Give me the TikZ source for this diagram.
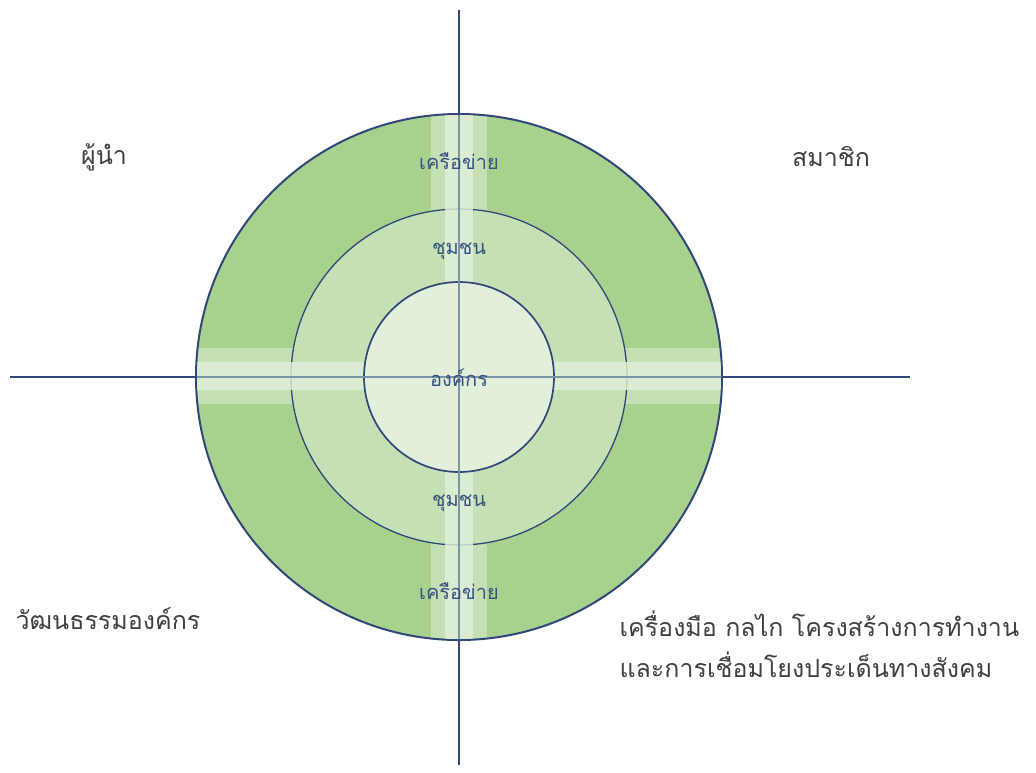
\documentclass[tikz,border=0pt]{standalone}
\usepackage{fontspec}
\usepackage{tikz}
\newfontfamily\thaifont[Script=Thai]{Loma}
\definecolor{ringDark}{RGB}{169,209,142}
\definecolor{ringMid}{RGB}{197,224,180}
\definecolor{ringLight}{RGB}{226,239,218}
\definecolor{axisNavy}{RGB}{47,72,120}
\definecolor{axisGrey}{RGB}{120,148,165}
\definecolor{labelBlue}{RGB}{52,82,130}
\definecolor{labelGrey}{RGB}{64,64,64}

\begin{document}
\begin{tikzpicture}[x=1pt, y=-1pt,
        axis/.style={draw=axisNavy, line width=1.8pt},
        axisin/.style={draw=axisGrey, line width=1.8pt},
        ring/.style={draw=axisNavy, line width=2pt},
        inlabel/.style={font=\thaifont\fontsize{20}{24}\selectfont, text=labelBlue},
        outlabel/.style={font=\thaifont\fontsize{25}{41}\selectfont, text=labelGrey, align=left}
    ]
        \useasboundingbox (0,0) rectangle (1036,772);
        % axes
        \coordinate (c) at (459,377);
        \coordinate (top) at (459,10);
        \coordinate (bottom) at (459,765);
        \coordinate (left) at (10,377);
        \coordinate (right) at (910,377);
        \draw[axis] (top) -- (bottom);
        \draw[axis] (left) -- (right);

        % outer ring with light bands
        \fill[ringDark] (c) circle (263);
        \begin{scope}
            \clip (c) circle (263);
            \fill[ringMid] (431,100) rectangle (487,660);
            \fill[ringMid] (180,348) rectangle (740,404);
        \end{scope}
        \draw[ring] (c) circle (263);

        % middle ring
        \fill[ringMid] (c) circle (168);
        \draw[ring, line width=1.3pt] (c) circle (168);
        \begin{scope}
            \clip (c) circle (262);
            \fill[ringLight, opacity=0.8] (445,100) rectangle (473,660);
            \fill[ringLight, opacity=0.8] (180,362) rectangle (740,390);
        \end{scope}

        % inner circle
        \fill[ringLight] (c) circle (95);
        \draw[ring, line width=1.7pt] (c) circle (95);
        \draw[axisin] (459,115) -- (459,639);
        \draw[axisin] (197,377) -- (721,377);

        % labels inside
        \node[inlabel] (net-top) at (459,161) {เครือข่าย};
        \node[inlabel] (comm-top) at (459,251) {ชุมชน};
        \node[inlabel] (org) at (459,378) {องค์กร};
        \node[inlabel] (comm-bottom) at (459,503) {ชุมชน};
        \node[inlabel] (net-bottom) at (459,591) {เครือข่าย};

        % labels outside
        \node[outlabel] (leader) at (104,157) {ผู้นำ};
        \node[outlabel] (member) at (831,157) {สมาชิก};
        \node[outlabel, anchor=west] (culture) at (12,619) {วัฒนธรรมองค์กร};
        \node[outlabel, anchor=west] (tools) at (616,644) {เครื่องมือ กลไก โครงสร้างการทำงาน\\และการเชื่อมโยงประเด็นทางสังคม};
    \end{tikzpicture}
\end{document}
